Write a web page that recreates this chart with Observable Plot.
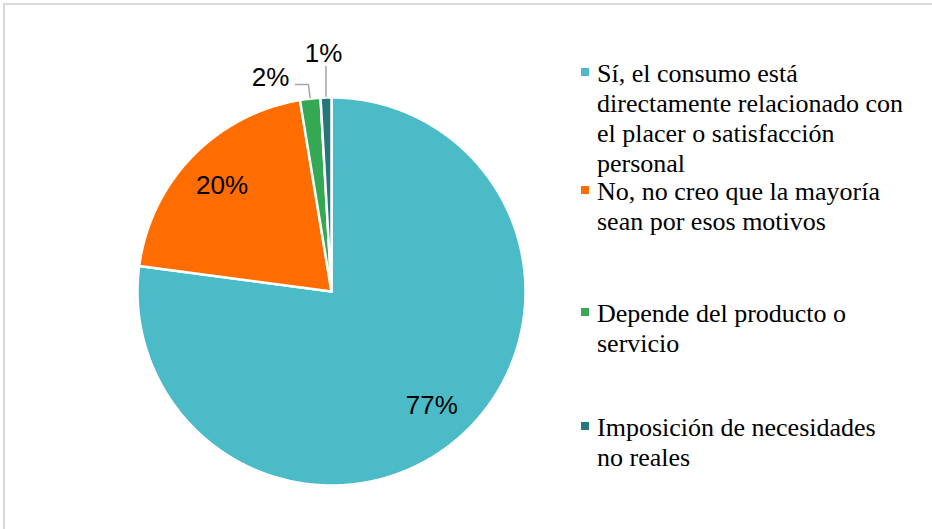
<!DOCTYPE html>
<html><head><meta charset="utf-8">
<script src="https://cdn.jsdelivr.net/npm/d3@7"></script>
<script src="https://cdn.jsdelivr.net/npm/@observablehq/plot@0.6"></script>
<style>
body{margin:0;background:#fff;}
#wrap{position:relative;width:932px;height:529px;overflow:hidden;background:#fff;}
#wrap svg{position:absolute;left:0;top:0;background:transparent;}
#border{position:absolute;left:3px;top:3px;width:960px;height:560px;border-top:2px solid #d9d9d9;border-left:2px solid #d9d9d9;pointer-events:none;}
.leg{position:absolute;left:581px;font-family:"Liberation Serif","Times New Roman",serif;font-size:26px;line-height:30px;color:#000;white-space:pre;}
.leg .sw{position:absolute;left:0;top:9px;width:8px;height:8px;}
.leg .tx{position:absolute;left:16px;top:0;}
</style></head><body><div id="wrap"></div>
<script>
// ---- data ----
const categories = [
  "Sí, el consumo está directamente relacionado con el placer o satisfacción personal",
  "No, no creo que la mayoría sean por esos motivos",
  "Depende del producto o servicio",
  "Imposición de necesidades no reales"
];
const legendLabels = [
  "Sí, el consumo está\ndirectamente relacionado con\nel placer o satisfacción\npersonal",
  "No, no creo que la mayoría\nsean por esos motivos",
  "Depende del producto o\nservicio",
  "Imposición de necesidades\nno reales"
];
const values = [77.1, 20.3, 1.7, 0.9];
const percentLabels = ["77%", "20%", "2%", "1%"];
const colors = ["#4bbcc7", "#ff6d00", "#34a853", "#27767c"];

// ---- layout ----
const legendTops = [59, 177, 299, 413];
const insideR = 0.785;
const outsideLabels = { // slice index -> label center & leader elbow (unit circle coords)
  2: {x: -0.314, y: 1.103, path: [[-0.119, 1.067], [-0.186, 1.067]]},
  3: {x: -0.041, y: 1.227, path: [[null, 1.16]]}
};

const rows = categories.map((c, i) => ({cat: c, value: values[i], label: percentLabels[i], i}));
const arcs = d3.pie().sort(null).value(d => d.value).startAngle(0).endAngle(2 * Math.PI)(rows);

const polyPts = [];
arcs.forEach(a => {
  polyPts.push({cat: a.data.cat, x: 0, y: 0});
  const n = Math.max(4, Math.ceil((a.endAngle - a.startAngle) / 0.005));
  for (let k = 0; k <= n; k++) {
    const t = a.startAngle + (a.endAngle - a.startAngle) * k / n;
    polyPts.push({cat: a.data.cat, x: Math.sin(t), y: Math.cos(t)});
  }
});

const inLabels = [], outLabels = [], leaderPts = [];
arcs.forEach((a, idx) => {
  const m = (a.startAngle + a.endAngle) / 2;
  if (outsideLabels[idx]) {
    const o = outsideLabels[idx];
    outLabels.push({x: o.x, y: o.y, label: a.data.label});
    const sx = Math.sin(m) * 1.005, sy = Math.cos(m) * 1.005;
    leaderPts.push({g: idx, x: sx, y: sy});
    o.path.forEach(p => leaderPts.push({g: idx, x: p[0] == null ? sx : p[0], y: p[1]}));
  } else {
    inLabels.push({x: Math.sin(m) * insideR, y: Math.cos(m) * insideR, label: a.data.label});
  }
});

const chart = Plot.plot({
  width: 932, height: 529, margin: 0,
  x: {domain: [-1, 1], range: [137, 525], axis: null},
  y: {domain: [-1, 1], range: [485, 97], axis: null},
  color: {domain: categories, range: colors},
  style: {background: "transparent"},
  marks: [
    Plot.line(polyPts, {x: "x", y: "y", z: "cat", fill: "cat", stroke: "white", strokeWidth: 2.5, strokeLinejoin: "round", curve: "linear-closed"}),
    Plot.line(leaderPts, {x: "x", y: "y", z: "g", stroke: "#a6a6a6", strokeWidth: 1.5}),
    Plot.text(inLabels, {x: "x", y: "y", text: "label", fontSize: 26, fontFamily: "Liberation Sans, Arial, sans-serif", fill: "#000", textAnchor: "middle", lineAnchor: "middle"}),
    Plot.text(outLabels, {x: "x", y: "y", text: "label", fontSize: 26, fontFamily: "Liberation Sans, Arial, sans-serif", fill: "#000", textAnchor: "middle", lineAnchor: "middle"})
  ]
});

const wrap = document.getElementById("wrap");
wrap.appendChild(chart);
categories.forEach((c, i) => {
  const d = document.createElement("div");
  d.className = "leg";
  d.style.top = legendTops[i] + "px";
  const sw = document.createElement("div");
  sw.className = "sw";
  sw.style.background = colors[i];
  const tx = document.createElement("div");
  tx.className = "tx";
  tx.textContent = legendLabels[i];
  d.appendChild(sw); d.appendChild(tx);
  wrap.appendChild(d);
});
const b = document.createElement("div");
b.id = "border";
wrap.appendChild(b);
</script>
</body></html>
